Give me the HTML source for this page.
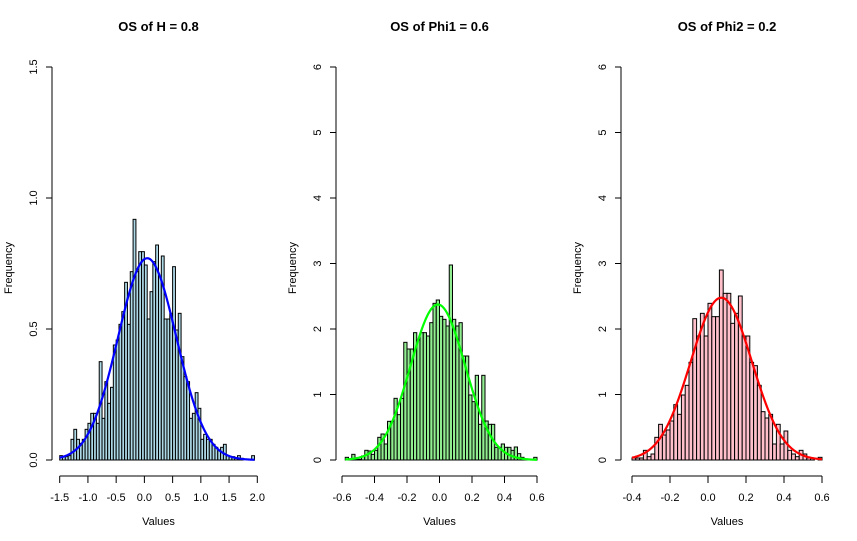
<!DOCTYPE html>
<html><head><meta charset="utf-8"><style>
body{margin:0;background:#fff;}
svg{display:block;font-family:"Liberation Sans",Arial,sans-serif;}
</style></head><body>
<svg id="c" width="857" height="541" viewBox="0 0 857 541"></svg>
<script>
// Panel 1: OS of H
const p1Start=-1.5, p1Bin=0.05;
const p1Tops=[737,740,740,737,688,658,688,700,688,658,640,610,610,640,455,625,515,580,532,405,390,343,305,217,343,185,28,185,125,125,165,327,245,155,105,200,138,327,327,310,170,360,310,440,500,515,625,610,548,595,688,673,688,688,703,712,722,712,703,737,740,740,745,737,745,750,750,750,737];
const p1Values=p1Tops.map(t=>(750-t)/786);
const p1XTicks=[-1.5,-1.0,-0.5,0.0,0.5,1.0,1.5,2.0];
const p1YTicks=[0.0,0.5,1.0,1.5];
const p1Mean=0.05, p1Sd=0.518;
// Panel 2: OS of Phi1
const p2Start=-0.58, p2Bin=0.02;
const p2Tops=[622,628,613,628,628,618,601,603,613,601,562,552,582,514,514,445,494,445,277,297,297,248,270,248,248,258,218,160,150,199,208,228,45,208,228,218,318,318,435,455,376,523,376,513,523,523,592,592,582,592,592,601,591,611,622,628,628,630,622];
const p2Values=p2Tops.map(t=>(630-t)/196.5);
const p2XTicks=[-0.6,-0.4,-0.2,0.0,0.2,0.4,0.6];
const p2YTicks=[0,1,2,3,4,5,6];
const p2Mean=-0.01, p2Sd=0.168;
// Panel 3: OS of Phi2
const p3Start=-0.4, p3Bin=0.02;
const p3Tops=[594,594,594,571,590,582,532,493,525,510,483,434,463,405,376,307,176,228,160,228,130,170,170,30,100,100,190,160,108,228,228,307,317,376,455,474,463,552,493,552,513,571,582,590,571,582,594,594,600,592];
const p3Values=p3Tops.map(t=>(600-t)/196.5);
const p3XTicks=[-0.4,-0.2,0.0,0.2,0.4,0.6];
const p3YTicks=[0,1,2,3,4,5,6];
const p3Mean=0.07, p3Sd=0.161;

const svg=document.getElementById('c');
const NS='http://www.w3.org/2000/svg';
function mk(tag,attrs,parent){const e=document.createElementNS(NS,tag);for(const k in attrs)e.setAttribute(k,attrs[k]);(parent||svg).appendChild(e);return e;}

function panel(cfg){
  const g=mk('g',{});
  
  
  const xs=v=>cfg.x0+(v-cfg.xmin)/(cfg.xmax-cfg.xmin)*(cfg.x1-cfg.x0);
  const ys=v=>460-(v/cfg.ymax)*393;
  // bars
  cfg.values.forEach((v,i)=>{
    const a=cfg.start+i*cfg.bin, b=a+cfg.bin;
    const r=mk('rect',{x:xs(a),y:ys(v),width:xs(b)-xs(a),height:460-ys(v),fill:cfg.fill,stroke:'#000','stroke-width':1},g);
    
    
  });
  // curve
  let d='';const lo=cfg.start, hi=cfg.start+cfg.values.length*cfg.bin;
  for(let k=0;k<=200;k++){const x=lo+(hi-lo)*k/200;const y=Math.exp(-0.5*((x-cfg.mean)/cfg.sd)**2)/(cfg.sd*Math.sqrt(2*Math.PI));d+=(k?'L':'M')+xs(x).toFixed(2)+','+ys(y).toFixed(2);}
  const p=mk('path',{d:d,fill:'none',stroke:cfg.line,'stroke-width':2.2},g);
  
  
  // x axis
  const xa=mk('g',{},g);
  
  
  mk('line',{x1:xs(cfg.xTicks[0]),x2:xs(cfg.xTicks[cfg.xTicks.length-1]),y1:476,y2:476,stroke:'#000'},xa);
  cfg.xTicks.forEach(t=>{
    mk('line',{x1:xs(t),x2:xs(t),y1:476,y2:483,stroke:'#000'},xa);
    const tx=mk('text',{x:xs(t),y:501,'font-size':11,'text-anchor':'middle'},xa);
    tx.textContent=t.toFixed(1);
  });
  const xl=mk('text',{x:(cfg.x0+cfg.x1)/2,y:525,'font-size':11,'text-anchor':'middle'},g);
  xl.textContent='Values';
  
  
  // y axis
  const ya=mk('g',{},g);
  
  
  mk('line',{x1:cfg.ax,x2:cfg.ax,y1:ys(cfg.yTicks[0]),y2:ys(cfg.yTicks[cfg.yTicks.length-1]),stroke:'#000'},ya);
  cfg.yTicks.forEach(t=>{
    mk('line',{x1:cfg.ax,x2:cfg.ax-6,y1:ys(t),y2:ys(t),stroke:'#000'},ya);
    const tx=mk('text',{x:cfg.ax-15,y:ys(t),'font-size':11,'text-anchor':'middle',transform:`rotate(-90 ${cfg.ax-15} ${ys(t)})`},ya);
    tx.textContent=cfg.yFmt(t);
  });
  const yl=mk('text',{x:cfg.ax-40,y:268,'font-size':11,'text-anchor':'middle',transform:`rotate(-90 ${cfg.ax-40} 268)`},g);
  yl.textContent='Frequency';
  
  
  const ti=mk('text',{x:(cfg.x0+cfg.x1)/2,y:31,'font-size':13,'font-weight':'bold','text-anchor':'middle'},g);
  ti.textContent=cfg.title;
  
  
}
panel({name:'panel-h',title:'OS of H = 0.8',x0:59.7,x1:257.3,xmin:-1.5,xmax:2.0,ymax:1.5,ax:52,start:p1Start,bin:p1Bin,values:p1Values,xTicks:p1XTicks,yTicks:p1YTicks,mean:p1Mean,sd:p1Sd,fill:'#add8e6',line:'#0000ff',yFmt:t=>t.toFixed(1)});
panel({name:'panel-phi1',title:'OS of Phi1 = 0.6',x0:342,x1:537,xmin:-0.6,xmax:0.6,ymax:6,ax:336,start:p2Start,bin:p2Bin,values:p2Values,xTicks:p2XTicks,yTicks:p2YTicks,mean:p2Mean,sd:p2Sd,fill:'#90ee90',line:'#00ff00',yFmt:t=>String(t)});
panel({name:'panel-phi2',title:'OS of Phi2 = 0.2',x0:632,x1:822,xmin:-0.4,xmax:0.6,ymax:6,ax:621,start:p3Start,bin:p3Bin,values:p3Values,xTicks:p3XTicks,yTicks:p3YTicks,mean:p3Mean,sd:p3Sd,fill:'#ffc0cb',line:'#ff0000',yFmt:t=>String(t)});
</script>
</body></html>
